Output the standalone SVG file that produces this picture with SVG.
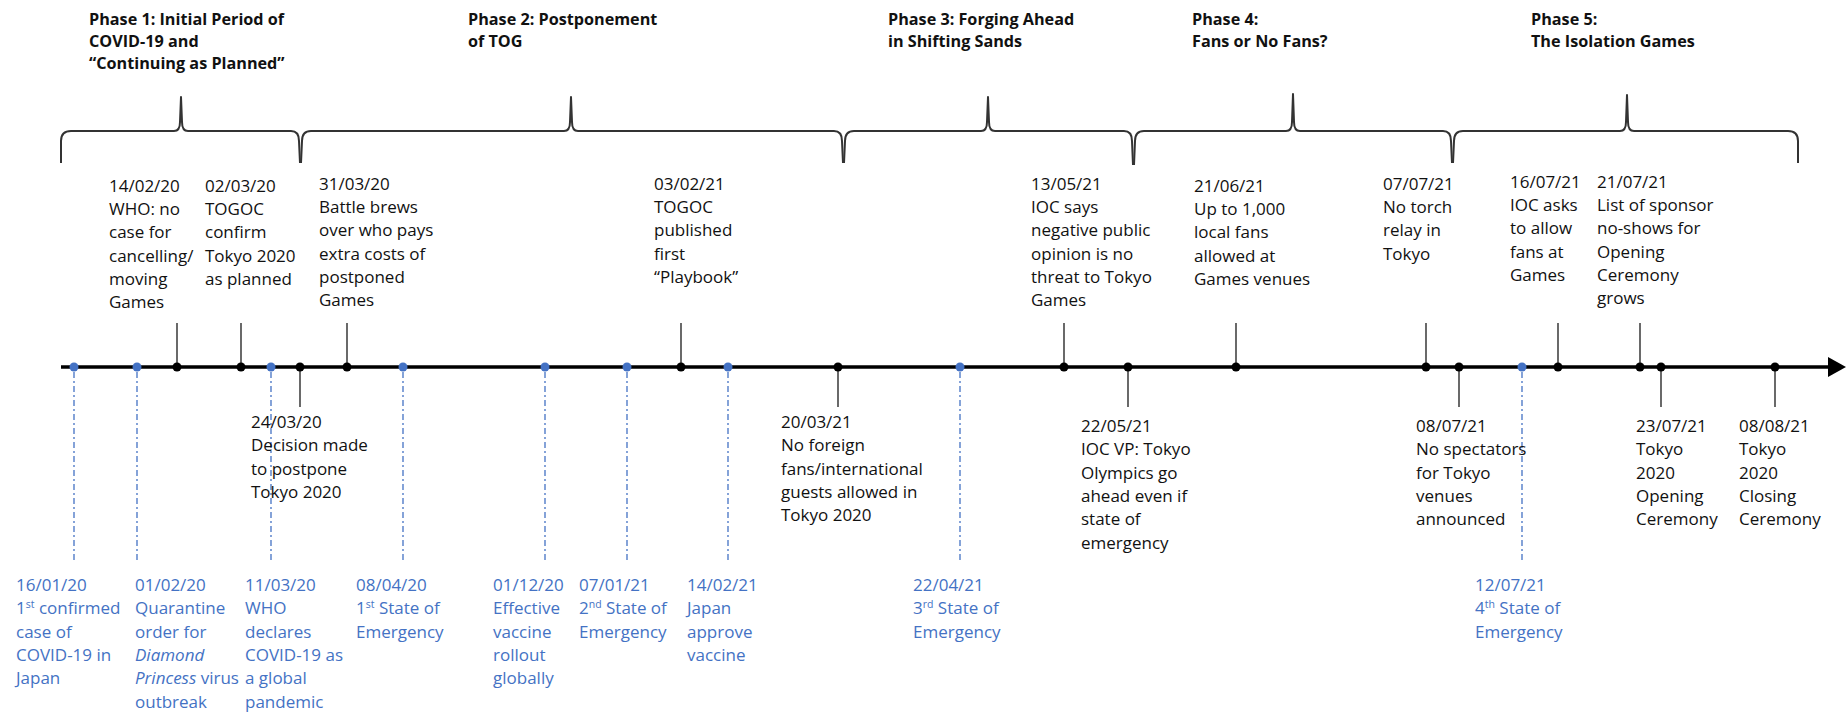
<svg xmlns="http://www.w3.org/2000/svg" width="1847" height="714" viewBox="0 0 1847 714">
<style>
text{font-family:"Open Sans","Liberation Sans",Arial,sans-serif;font-size:17px;fill:#111}
.ph{font-weight:bold;font-size:16.2px}
.bl{fill:#4472C4}
.sup{font-size:10.5px}
.it{font-style:italic}
.dot{fill:#000}
.bdot{fill:#4472C4}
.stem{stroke:#444;stroke-width:1.6;fill:none}
.dash{stroke:#4472C4;stroke-width:1.3;stroke-dasharray:6 3 2 3;fill:none}
.axis{stroke:#000;stroke-width:3.5}
.brace{stroke:#333;stroke-width:2;fill:none;stroke-linejoin:round}
</style>
<rect width="1847" height="714" fill="#fff"/>

<g id="phases">
  <g id="phase1">
    <path class="brace" d="M61,163 L61,141 Q61,131 71,131 L174,131 Q180,131 180,122 L181,97 L182,122 Q182,131 188,131 L291,131 Q299,131 299,141 L300,163"/>
    <text class="ph" x="89" y="25">Phase 1: Initial Period of<tspan x="89" dy="22">COVID-19 and</tspan><tspan x="89" dy="22">“Continuing as Planned”</tspan></text>
  </g>
  <g id="phase2">
    <path class="brace" d="M301,163 L302,141 Q302,131 311,131 L564,131 Q570,131 570,122 L571,97 L572,122 Q572,131 578,131 L834,131 Q842,131 842,141 L843,163"/>
    <text class="ph" x="468" y="25">Phase 2: Postponement<tspan x="468" dy="22">of TOG</tspan></text>
  </g>
  <g id="phase3">
    <path class="brace" d="M844,163 L845,141 Q845,131 854,131 L981,131 Q987,131 987,122 L988,97 L989,122 Q989,131 995,131 L1124,131 Q1132,131 1132,141 L1133,165"/>
    <text class="ph" x="888" y="25">Phase 3: Forging Ahead<tspan x="888" dy="22">in Shifting Sands</tspan></text>
  </g>
  <g id="phase4">
    <path class="brace" d="M1134,165 L1135,141 Q1135,131 1144,131 L1286,131 Q1292,131 1292,122 L1293,94 L1294,122 Q1294,131 1300,131 L1443,131 Q1451,131 1451,141 L1452,163"/>
    <text class="ph" x="1192" y="25">Phase 4:<tspan x="1192" dy="22">Fans or No Fans?</tspan></text>
  </g>
  <g id="phase5">
    <path class="brace" d="M1453,163 L1454,141 Q1454,131 1463,131 L1620,131 Q1626,131 1626,122 L1627,95 L1628,122 Q1628,131 1634,131 L1788,131 Q1798,131 1798,141 L1798,163"/>
    <text class="ph" x="1531" y="25">Phase 5:<tspan x="1531" dy="22">The Isolation Games</tspan></text>
  </g>
</g>

<g id="connectors">
  <line class="axis" x1="61" y1="367" x2="1830" y2="367"/>
  <polygon points="1828,357 1846,367 1828,377" fill="#000"/>
  <!-- up stems -->
  <line class="stem" x1="177" y1="323" x2="177" y2="367"/>
  <line class="stem" x1="241" y1="323" x2="241" y2="367"/>
  <line class="stem" x1="347" y1="323" x2="347" y2="367"/>
  <line class="stem" x1="681" y1="323" x2="681" y2="367"/>
  <line class="stem" x1="1064" y1="323" x2="1064" y2="367"/>
  <line class="stem" x1="1236" y1="323" x2="1236" y2="367"/>
  <line class="stem" x1="1426" y1="323" x2="1426" y2="367"/>
  <line class="stem" x1="1558" y1="323" x2="1558" y2="367"/>
  <line class="stem" x1="1640" y1="323" x2="1640" y2="367"/>
  <!-- down stems -->
  <line class="stem" x1="300" y1="367" x2="300" y2="407"/>
  <line class="stem" x1="838" y1="367" x2="838" y2="407"/>
  <line class="stem" x1="1128" y1="367" x2="1128" y2="407"/>
  <line class="stem" x1="1459" y1="367" x2="1459" y2="407"/>
  <line class="stem" x1="1661" y1="367" x2="1661" y2="407"/>
  <line class="stem" x1="1775" y1="367" x2="1775" y2="407"/>
  <!-- dashed drops -->
  <line class="dash" x1="74" y1="372" x2="74" y2="563"/>
  <line class="dash" x1="137" y1="372" x2="137" y2="563"/>
  <line class="dash" x1="271" y1="372" x2="271" y2="563"/>
  <line class="dash" x1="403" y1="372" x2="403" y2="563"/>
  <line class="dash" x1="545" y1="372" x2="545" y2="563"/>
  <line class="dash" x1="627" y1="372" x2="627" y2="563"/>
  <line class="dash" x1="728" y1="372" x2="728" y2="563"/>
  <line class="dash" x1="960" y1="372" x2="960" y2="563"/>
  <line class="dash" x1="1522" y1="372" x2="1522" y2="563"/>
</g>

<g id="events-above">
  <g id="e140220"><circle class="dot" cx="177" cy="367" r="4.5"/>
    <text x="109" y="192">14/02/20<tspan x="109" dy="23.2">WHO: no</tspan><tspan x="109" dy="23.2">case for</tspan><tspan x="109" dy="23.2">cancelling/</tspan><tspan x="109" dy="23.2">moving</tspan><tspan x="109" dy="23.2">Games</tspan></text></g>
  <g id="e020320"><circle class="dot" cx="241" cy="367" r="4.5"/>
    <text x="205" y="192">02/03/20<tspan x="205" dy="23.2">TOGOC</tspan><tspan x="205" dy="23.2">confirm</tspan><tspan x="205" dy="23.2">Tokyo 2020</tspan><tspan x="205" dy="23.2">as planned</tspan></text></g>
  <g id="e310320"><circle class="dot" cx="347" cy="367" r="4.5"/>
    <text x="319" y="190">31/03/20<tspan x="319" dy="23.2">Battle brews</tspan><tspan x="319" dy="23.2">over who pays</tspan><tspan x="319" dy="23.2">extra costs of</tspan><tspan x="319" dy="23.2">postponed</tspan><tspan x="319" dy="23.2">Games</tspan></text></g>
  <g id="e030221"><circle class="dot" cx="681" cy="367" r="4.5"/>
    <text x="654" y="190">03/02/21<tspan x="654" dy="23.2">TOGOC</tspan><tspan x="654" dy="23.2">published</tspan><tspan x="654" dy="23.2">first</tspan><tspan x="654" dy="23.2">“Playbook”</tspan></text></g>
  <g id="e130521"><circle class="dot" cx="1064" cy="367" r="4.5"/>
    <text x="1031" y="190">13/05/21<tspan x="1031" dy="23.2">IOC says</tspan><tspan x="1031" dy="23.2">negative public</tspan><tspan x="1031" dy="23.2">opinion is no</tspan><tspan x="1031" dy="23.2">threat to Tokyo</tspan><tspan x="1031" dy="23.2">Games</tspan></text></g>
  <g id="e210621"><circle class="dot" cx="1236" cy="367" r="4.5"/>
    <text x="1194" y="192">21/06/21<tspan x="1194" dy="23.2">Up to 1,000</tspan><tspan x="1194" dy="23.2">local fans</tspan><tspan x="1194" dy="23.2">allowed at</tspan><tspan x="1194" dy="23.2">Games venues</tspan></text></g>
  <g id="e070721"><circle class="dot" cx="1426" cy="367" r="4.5"/>
    <text x="1383" y="190">07/07/21<tspan x="1383" dy="23.2">No torch</tspan><tspan x="1383" dy="23.2">relay in</tspan><tspan x="1383" dy="23.2">Tokyo</tspan></text></g>
  <g id="e160721"><circle class="dot" cx="1558" cy="367" r="4.5"/>
    <text x="1510" y="188">16/07/21<tspan x="1510" dy="23.2">IOC asks</tspan><tspan x="1510" dy="23.2">to allow</tspan><tspan x="1510" dy="23.2">fans at</tspan><tspan x="1510" dy="23.2">Games</tspan></text></g>
  <g id="e210721"><circle class="dot" cx="1640" cy="367" r="4.5"/>
    <text x="1597" y="188">21/07/21<tspan x="1597" dy="23.2">List of sponsor</tspan><tspan x="1597" dy="23.2">no-shows for</tspan><tspan x="1597" dy="23.2">Opening</tspan><tspan x="1597" dy="23.2">Ceremony</tspan><tspan x="1597" dy="23.2">grows</tspan></text></g>
</g>

<g id="events-below">
  <g id="e240320"><circle class="dot" cx="300" cy="367" r="4.5"/>
    <text x="251" y="428">24/03/20<tspan x="251" dy="23.3">Decision made</tspan><tspan x="251" dy="23.3">to postpone</tspan><tspan x="251" dy="23.3">Tokyo 2020</tspan></text></g>
  <g id="e200321"><circle class="dot" cx="838" cy="367" r="4.5"/>
    <text x="781" y="428">20/03/21<tspan x="781" dy="23.3">No foreign</tspan><tspan x="781" dy="23.3">fans/international</tspan><tspan x="781" dy="23.3">guests allowed in</tspan><tspan x="781" dy="23.3">Tokyo 2020</tspan></text></g>
  <g id="e220521"><circle class="dot" cx="1128" cy="367" r="4.5"/>
    <text x="1081" y="432">22/05/21<tspan x="1081" dy="23.3">IOC VP: Tokyo</tspan><tspan x="1081" dy="23.3">Olympics go</tspan><tspan x="1081" dy="23.3">ahead even if</tspan><tspan x="1081" dy="23.3">state of</tspan><tspan x="1081" dy="23.3">emergency</tspan></text></g>
  <g id="e080721"><circle class="dot" cx="1459" cy="367" r="4.5"/>
    <text x="1416" y="432">08/07/21<tspan x="1416" dy="23.3">No spectators</tspan><tspan x="1416" dy="23.3">for Tokyo</tspan><tspan x="1416" dy="23.3">venues</tspan><tspan x="1416" dy="23.3">announced</tspan></text></g>
  <g id="e230721"><circle class="dot" cx="1661" cy="367" r="4.5"/>
    <text x="1636" y="432">23/07/21<tspan x="1636" dy="23.3">Tokyo</tspan><tspan x="1636" dy="23.3">2020</tspan><tspan x="1636" dy="23.3">Opening</tspan><tspan x="1636" dy="23.3">Ceremony</tspan></text></g>
  <g id="e080821"><circle class="dot" cx="1775" cy="367" r="4.5"/>
    <text x="1739" y="432">08/08/21<tspan x="1739" dy="23.3">Tokyo</tspan><tspan x="1739" dy="23.3">2020</tspan><tspan x="1739" dy="23.3">Closing</tspan><tspan x="1739" dy="23.3">Ceremony</tspan></text></g>
</g>

<g id="events-covid">
  <g id="c160120"><circle class="bdot" cx="74" cy="367" r="4.5"/>
    <text class="bl" x="16" y="591">16/01/20<tspan x="16" dy="23.3">1</tspan><tspan class="sup" dy="-6">st</tspan><tspan dy="6"> confirmed</tspan><tspan x="16" dy="23.3">case of</tspan><tspan x="16" dy="23.3">COVID-19 in</tspan><tspan x="16" dy="23.3">Japan</tspan></text></g>
  <g id="c010220"><circle class="bdot" cx="137" cy="367" r="4.5"/>
    <text class="bl" x="135" y="591">01/02/20<tspan x="135" dy="23.3">Quarantine</tspan><tspan x="135" dy="23.3">order for</tspan><tspan class="it" x="135" dy="23.3">Diamond</tspan><tspan class="it" x="135" dy="23.3">Princess</tspan><tspan> virus</tspan><tspan x="135" dy="23.3">outbreak</tspan></text></g>
  <g id="c110320"><circle class="bdot" cx="271" cy="367" r="4.5"/>
    <text class="bl" x="245" y="591">11/03/20<tspan x="245" dy="23.3">WHO</tspan><tspan x="245" dy="23.3">declares</tspan><tspan x="245" dy="23.3">COVID-19 as</tspan><tspan x="245" dy="23.3">a global</tspan><tspan x="245" dy="23.3">pandemic</tspan></text></g>
  <g id="c080420"><circle class="bdot" cx="403" cy="367" r="4.5"/>
    <text class="bl" x="356" y="591">08/04/20<tspan x="356" dy="23.3">1</tspan><tspan class="sup" dy="-6">st</tspan><tspan dy="6"> State of</tspan><tspan x="356" dy="23.3">Emergency</tspan></text></g>
  <g id="c011220"><circle class="bdot" cx="545" cy="367" r="4.5"/>
    <text class="bl" x="493" y="591">01/12/20<tspan x="493" dy="23.3">Effective</tspan><tspan x="493" dy="23.3">vaccine</tspan><tspan x="493" dy="23.3">rollout</tspan><tspan x="493" dy="23.3">globally</tspan></text></g>
  <g id="c070121"><circle class="bdot" cx="627" cy="367" r="4.5"/>
    <text class="bl" x="579" y="591">07/01/21<tspan x="579" dy="23.3">2</tspan><tspan class="sup" dy="-6">nd</tspan><tspan dy="6"> State of</tspan><tspan x="579" dy="23.3">Emergency</tspan></text></g>
  <g id="c140221"><circle class="bdot" cx="728" cy="367" r="4.5"/>
    <text class="bl" x="687" y="591">14/02/21<tspan x="687" dy="23.3">Japan</tspan><tspan x="687" dy="23.3">approve</tspan><tspan x="687" dy="23.3">vaccine</tspan></text></g>
  <g id="c220421"><circle class="bdot" cx="960" cy="367" r="4.5"/>
    <text class="bl" x="913" y="591">22/04/21<tspan x="913" dy="23.3">3</tspan><tspan class="sup" dy="-6">rd</tspan><tspan dy="6"> State of</tspan><tspan x="913" dy="23.3">Emergency</tspan></text></g>
  <g id="c120721"><circle class="bdot" cx="1522" cy="367" r="4.5"/>
    <text class="bl" x="1475" y="591">12/07/21<tspan x="1475" dy="23.3">4</tspan><tspan class="sup" dy="-6">th</tspan><tspan dy="6"> State of</tspan><tspan x="1475" dy="23.3">Emergency</tspan></text></g>
</g>
</svg>
